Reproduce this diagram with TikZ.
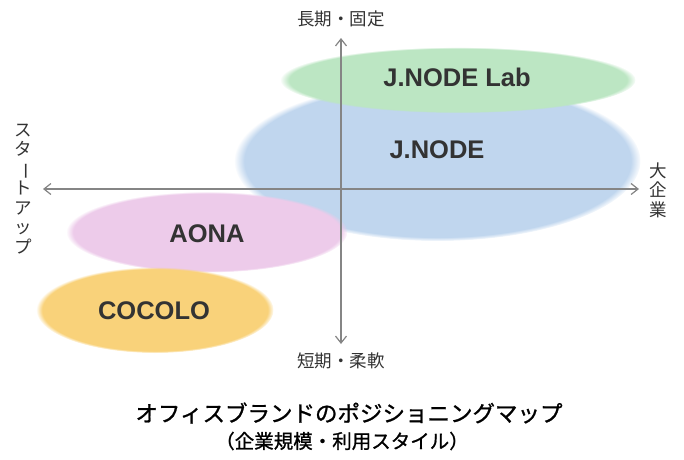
\documentclass[tikz,border=0pt]{standalone}
\usepackage{fontspec}
\setmainfont{Liberation Sans}
\newfontfamily\jp{Noto Sans CJK JP}
\newfontfamily\jptitle[FakeBold=1]{Noto Sans CJK JP}
\usetikzlibrary{shapes.geometric,arrows.meta,fadings}
\definecolor{jnodeblue}{HTML}{C0D6EE}
\definecolor{labgreen}{HTML}{BCE6C3}
\definecolor{aonapink}{HTML}{EDCBEA}
\definecolor{cocoloorange}{HTML}{F9D27A}
\definecolor{axisgray}{HTML}{858585}
\definecolor{labelgray}{HTML}{333333}
\pgfdeclareradialshading{softshade}{\pgfpointorigin}{color(0bp)=(transparent!0); color(23.7bp)=(transparent!0); color(25bp)=(transparent!100); color(50bp)=(transparent!100)}
\pgfdeclarefading{softedge}{\pgfuseshading{softshade}}

\begin{document}
\begin{tikzpicture}[
		x=1pt,
		y=-1pt,
		brand/.style={
		  ellipse,
		  draw=none,
		  inner sep=0pt,
		  path fading=softedge
		  },
		brandname/.style={
		  font=\fontsize{25.5}{25.5}\selectfont\bfseries,
		  text=labelgray
		  },
		axislabel/.style={
		  font=\jp\fontsize{17.5}{19.5}\selectfont,
		  text=labelgray,
		  align=center,
		  inner sep=0pt
		  },
		axis/.style={
		  draw=axisgray,
		  line width=1.2pt
		  },
		>={Straight Barb[length=7pt,width=11pt]}
		]
		\useasboundingbox (0,0) rectangle (684,459);
		\node[brand, fill=jnodeblue, minimum width=406pt, minimum height=160pt] (jnode) at (437.5,161) {};
		\node[brand, fill=labgreen, minimum width=355pt, minimum height=66pt] (lab) at (458,80) {};
		\node[brand, fill=aonapink, minimum width=281pt, minimum height=81pt] (aona) at (207,232) {};
		\node[brand, fill=cocoloorange, minimum width=237pt, minimum height=86pt] (cocolo) at (155,310) {};
		\node[brandname] (labname) at (457,77) {J.NODE Lab};
		\node[brandname] (jnodename) at (437,150) {J.NODE};
		\node[brandname] (aonaname) at (207,234) {AONA};
		\node[brandname] (cocoloname) at (154,311) {COCOLO};
		\coordinate (top) at (341,38);
		\coordinate (bottom) at (341,344);
		\coordinate (left) at (43,189);
		\coordinate (right) at (639,189);
		\draw[axis,<->] (left) -- (right);
		\draw[axis,<->] (bottom) -- (top);
		\node[axislabel] (longterm) at (341,19) {長期・固定};
		\node[axislabel] (shortterm) at (341,361) {短期・柔軟};
		\node[axislabel] (startup) at (23,189) {ス\\タ\\\rotatebox[origin=c]{-90}{ー}\\ト\\ア\\ッ\\プ};
		\node[axislabel] (bigcorp) at (658,190) {大\\企\\業};
		\node[font=\jptitle\fontsize{22.5}{22.5}\selectfont] (title) at (349,413) {オフィスブランドのポジショニングマップ};
		\node[font=\jptitle\fontsize{19.5}{19.5}\selectfont] (subtitle) at (342,441) {（企業規模・利用スタイル）};
	\end{tikzpicture}
\end{document}
